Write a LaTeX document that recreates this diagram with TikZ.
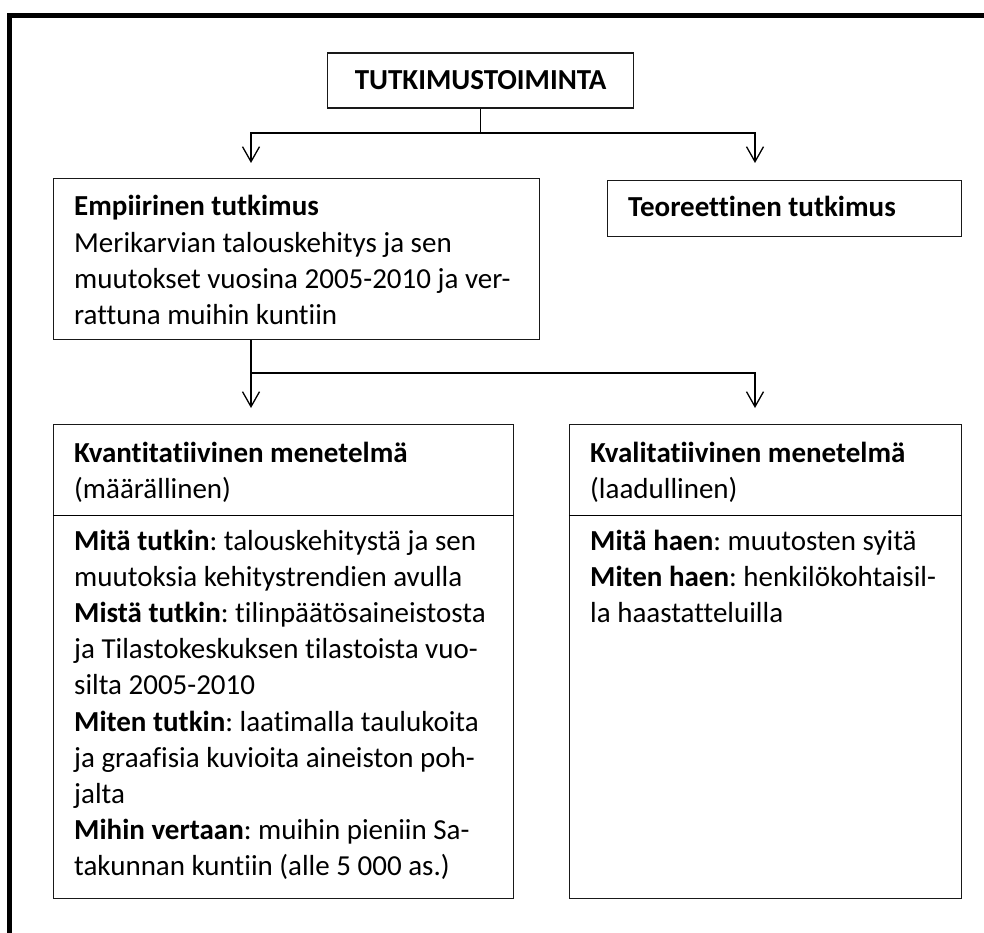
\documentclass[tikz,border=0pt]{standalone}
\usepackage{fontspec}
\setmainfont{Carlito}[Ligatures={NoCommon}]
\usetikzlibrary{arrows.meta}
\frenchspacing
\begin{document}
\begin{tikzpicture}[x=1pt,y=-1pt,
  frame/.style={line width=5pt,black},
  box/.style={draw=black!90,line width=1.3pt,inner sep=0pt,anchor=north west},
  txt/.style={anchor=base west,inner sep=0pt,font=\fontsize{29}{36.2}\selectfont},
  conn/.style={line width=1.3pt,black},
  arr/.style={conn,-{Straight Barb[length=15pt,width=17pt,line width=1.3pt]}}]
\useasboundingbox (0,0) rectangle (984,933);
\clip (0,0) rectangle (984,933);
% outer frame
\draw[frame] (9.2,960) -- (9.2,15.8) -- (1010,15.8);
% boxes
\node[box,minimum width=306pt,minimum height=55pt] (top) at (327,52.5) {};
\node[box,minimum width=486pt,minimum height=161pt] (emp) at (53,178) {};
\node[box,minimum width=354pt,minimum height=56pt] (teo) at (607,180) {};
\node[box,minimum width=460pt,minimum height=474pt] (kvant) at (53,424) {};
\node[box,minimum width=392pt,minimum height=474pt] (kval) at (569,424) {};
\draw[conn] (kvant.west |- 0,515.5) coordinate (d1) -- (kvant.east |- d1);
\draw[conn] (kval.west |- 0,515.5) coordinate (d2) -- (kval.east |- d2);
% texts
\node[txt,anchor=base] (ttop) at (top.center |- 0,90) {\textbf{TUTKIMUSTOIMINTA}};
\node[txt] (temp) at (74,216) {\begin{tabular}[t]{@{}l@{}}\textbf{Empiirinen tutkimus}\\
Merikarvian talouskehitys ja sen\\
muutokset vuosina 2005-2010 ja ver-\\
rattuna muihin kuntiin\end{tabular}};
\node[txt] (tteo) at (628,217) {\textbf{Teoreettinen tutkimus}};
\node[txt] (hkvant) at (74,462) {\begin{tabular}[t]{@{}l@{}}\textbf{Kvantitatiivinen menetelmä}\\
(määrällinen)\end{tabular}};
\node[txt] (hkval) at (590,462) {\begin{tabular}[t]{@{}l@{}}\textbf{Kvalitatiivinen menetelmä}\\
(laadullinen)\end{tabular}};
\node[txt] (lkvant) at (74,550) {\begin{tabular}[t]{@{}l@{}}\textbf{Mitä tutkin}: talouskehitystä ja sen\\
muutoksia kehitystrendien avulla\\
\textbf{Mistä tutkin}: tilinpäätösaineistosta\\
ja Tilastokeskuksen tilastoista vuo-\\
silta 2005-2010\\
\textbf{Miten tutkin}: laatimalla taulukoita\\
ja graafisia kuvioita aineiston poh-\\
jalta\\
\textbf{Mihin vertaan}: muihin pieniin Sa-\\
takunnan kuntiin (alle 5 000 as.)\end{tabular}};
\node[txt] (lkval) at (590,550) {\begin{tabular}[t]{@{}l@{}}\textbf{Mitä haen}: muutosten syitä\\
\textbf{Miten haen}: henkilökohtaisil-\\
la haastatteluilla\end{tabular}};
% connectors
\coordinate (j1) at (top.south |- 0,133);
\coordinate (a1) at (251,163);
\coordinate (a2) at (755,163);
\draw[conn] (top.south) -- (j1);
\draw[arr] (j1) -| (a1);
\draw[arr] (j1) -| (a2);
\coordinate (j2) at (251,373);
\coordinate (b1) at (251,408);
\coordinate (b2) at (755,408);
\draw[conn] (emp.south -| j2) -- (j2);
\draw[arr] (j2) -- (b1);
\draw[arr] (j2) -| (b2);
\end{tikzpicture}
\end{document}
